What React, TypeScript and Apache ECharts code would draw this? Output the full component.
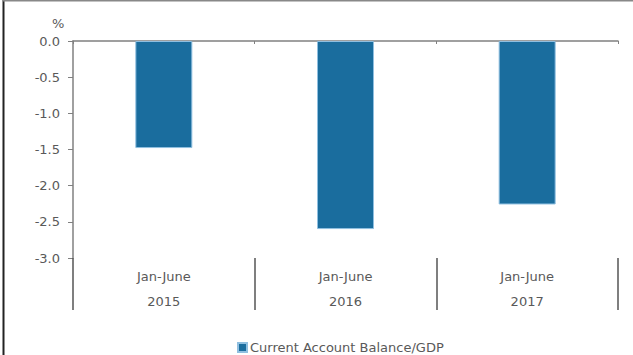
import React, { useEffect, useRef } from "react";
import * as echarts from "echarts";

const periods = ["Jan-June", "Jan-June", "Jan-June"];
const years = ["2015", "2016", "2017"];
const values = [-1.48, -2.6, -2.26];
const seriesName = "Current Account Balance/GDP";
const yTicks = { min: -3, max: 0, interval: 0.5 };

const FONT = "DejaVu Sans";
const TXT = "#595959";
const AXIS = "#808080";

export default function App() {
  const ref = useRef<HTMLDivElement>(null);
  useEffect(() => {
    document.body.style.margin = "0";
    const chart = echarts.init(ref.current!, null, { renderer: "svg" });
    const cats = years.map((y, i) => `${periods[i]}\n${y}`);
    chart.setOption({
      animation: false,
      textStyle: { fontFamily: FONT },
      title: {
        text: "%",
        left: 52,
        top: 17,
        padding: 0,
        textStyle: { fontSize: 13, fontWeight: "normal", color: TXT, fontFamily: FONT },
      },
      graphic: [
        { type: "line", shape: { x1: 3.5, y1: 0, x2: 3.5, y2: 355 }, style: { stroke: "#222", lineWidth: 2 } },
        { type: "line", shape: { x1: 3, y1: 0.75, x2: 633, y2: 0.75 }, style: { stroke: "#888", lineWidth: 1.5 } },
      ],
      grid: { left: 73, right: 15, top: 41, bottom: 97 },
      legend: {
        data: [seriesName],
        left: 232,
        top: 336,
        icon: "rect",
        itemWidth: 9,
        itemHeight: 9,
        itemGap: 4,
        textStyle: { fontSize: 13, color: TXT, fontFamily: FONT, padding: [0, 0, 0, -2] },
      },
      xAxis: [
        {
          type: "category",
          position: "top",
          data: cats,
          axisLine: { lineStyle: { color: AXIS, width: 1.5 } },
          axisTick: { show: true, inside: true, length: 3, lineStyle: { color: AXIS } },
          axisLabel: { show: false },
        },
        {
          type: "category",
          position: "bottom",
          data: cats,
          axisLine: { show: false },
          axisTick: { show: true, length: 52, lineStyle: { color: "#555", width: 1.5 } },
          axisLabel: {
            color: TXT,
            fontSize: 13,
            fontFamily: FONT,
            lineHeight: 25,
            margin: 6,
            interval: 0,
          },
        },
      ],
      yAxis: {
        type: "value",
        min: yTicks.min,
        max: yTicks.max,
        interval: yTicks.interval,
        axisLine: { show: true, lineStyle: { color: AXIS, width: 1.5 } },
        axisTick: { show: true, length: 5, lineStyle: { color: AXIS } },
        splitLine: { show: false },
        axisLabel: {
          color: TXT,
          fontSize: 13,
          fontFamily: FONT,
          margin: 13,
          formatter: (v: number) => v.toFixed(1),
        },
      },
      series: [
        {
          name: seriesName,
          type: "bar",
          xAxisIndex: 1,
          data: values,
          barWidth: 57,
          itemStyle: { color: "#1a6d9e", borderColor: "#8fbfe0", borderWidth: 1 },
        },
      ],
    });
    return () => chart.dispose();
  }, []);
  return (
    <div
      ref={ref}
      style={{ position: "absolute", left: 0, top: 0, width: 633, height: 355 }}
    />
  );
}
